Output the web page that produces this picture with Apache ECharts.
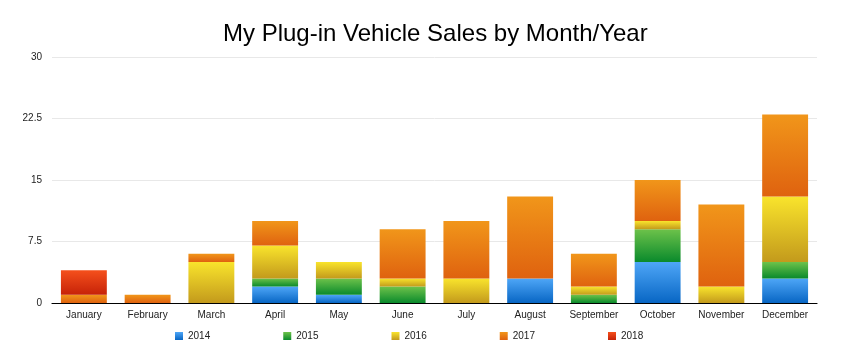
<!DOCTYPE html>
<html><head><meta charset="utf-8">
<script src="https://cdn.jsdelivr.net/npm/echarts@6/dist/echarts.min.js"></script>
<style>html,body{margin:0;padding:0;background:#fff}#c{width:842px;height:360px}</style>
</head><body><div id="c"></div>
<script>
const months = ["January","February","March","April","May","June","July","August","September","October","November","December"];
const s2014 = [0,0,0,2,1,0,0,3,0,5,0,3];
const s2015 = [0,0,0,1,2,2,0,0,1,4,0,2];
const s2016 = [0,0,5,4,2,1,3,0,1,1,2,8];
const s2017 = [1,1,1,3,0,6,7,10,4,5,10,10];
const s2018 = [3,0,0,0,0,0,0,0,0,0,0,0];
const yTicks = [0,7.5,15,22.5,30];

const seriesDefs = [
  {name:"2014", data:s2014, c:["#4ea6f7","#0866c4"]},
  {name:"2015", data:s2015, c:["#6dc24a","#0a8a2c"]},
  {name:"2016", data:s2016, c:["#f9e42c","#c39a1c"]},
  {name:"2017", data:s2017, c:["#f1961a","#df620f"]},
  {name:"2018", data:s2018, c:["#f5501c","#c62208"]}
];
const grad = c => new echarts.graphic.LinearGradient(0,0,0,1,[{offset:0,color:c[0]},{offset:1,color:c[1]}]);
const font = '"Liberation Sans", Helvetica, Arial, sans-serif';
const chart = echarts.init(document.getElementById('c'), null, {renderer:'canvas'});
chart.setOption({
  animation:false,
  title:{text:"My Plug-in Vehicle Sales by Month/Year", left:218, top:17,
    textStyle:{fontFamily:font, fontSize:24, fontWeight:'normal', color:'#000'}},
  grid:{left:52, right:25, top:57, bottom:57},
  legend:{bottom:14, left:170, itemWidth:8, itemHeight:8, itemGap:73, icon:'rect',
    textStyle:{fontFamily:font, fontSize:10, color:'#222'},
    data:seriesDefs.map(s=>s.name)},
  xAxis:{type:'category', data:months,
    axisLine:{lineStyle:{color:'#000', width:1.2}}, axisTick:{show:false},
    axisLabel:{fontFamily:font, fontSize:10, color:'#222', interval:0, margin:7}},
  yAxis:{type:'value', min:0, max:30, interval:7.5,
    axisLine:{show:false}, axisTick:{show:false},
    splitLine:{lineStyle:{color:'#e8e8e8'}},
    axisLabel:{fontFamily:font, fontSize:10, color:'#222', margin:10,
      formatter:v=>yTicks.includes(v)?String(v):''}},
  series:seriesDefs.map(s=>({name:s.name, type:'bar', stack:'t', data:s.data,
    barWidth:'72%', itemStyle:{color:grad(s.c)}}))
});
</script></body></html>
